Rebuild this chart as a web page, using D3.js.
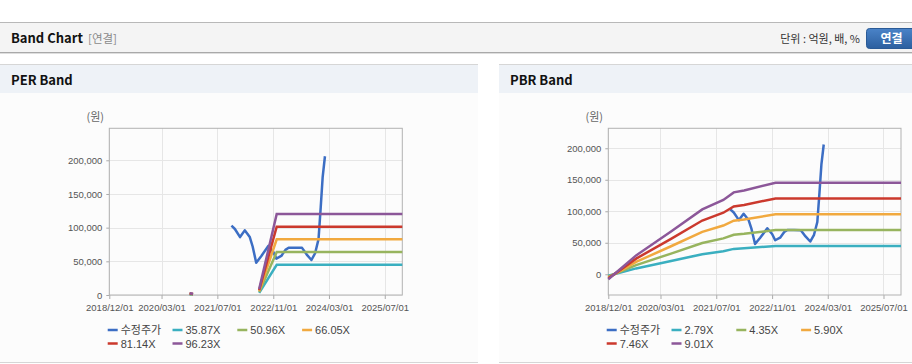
<!DOCTYPE html>
<html>
<head>
<meta charset="utf-8">
<script src="https://cdn.jsdelivr.net/npm/d3@7"></script>
<style>
  body { margin: 0; background: #fff; }
</style>
</head>
<body>
<div id="chart"></div>
<script>
// axis
const xDomain = ["2018/12/01", "2025/12/01"]
const xTickLabels = ["2018/12/01", "2020/03/01", "2021/07/01", "2022/11/01", "2024/03/01", "2025/07/01"]
const perYTicks = [0, 50000, 100000, 150000, 200000]
const pbrYTicks = [0, 50000, 100000, 150000, 200000]

// 수정주가
const priceDates = ["2021/11/01", "2021/12/01", "2022/01/15", "2022/02/25", "2022/04/10", "2022/05/05",
  "2022/06/05", "2022/07/20", "2022/09/20", "2022/11/01", "2022/11/28", "2023/01/10", "2023/02/15",
  "2023/03/15", "2023/05/10", "2023/07/10", "2023/08/20", "2023/09/30", "2023/11/01", "2023/12/01",
  "2023/12/20", "2024/01/06", "2024/01/26"]
const priceValues = [103000, 98000, 86000, 96000, 86000, 72000,
  48000, 58000, 73000, 64000, 54000, 58000, 67000,
  70200, 70300, 70000, 60000, 52000, 62000, 83000,
  130000, 175000, 206000]

// PER band
const perNames = ["35.87X", "50.96X", "66.05X", "81.14X", "96.23X"]
const perDates = ["2020/11/01", "2020/12/01", "2021/06/01", "2022/07/01", "2022/12/01", "2025/12/01"]
const per3587 = [900, 700, null, 3200, 44800, 44800]
const per5096 = [1300, 1000, null, 4600, 63700, 63700]
const per6605 = [1700, 1300, null, 5900, 82600, 82600]
const per8114 = [2200, 1600, null, 7300, 101400, 101400]
const per9623 = [2600, 2000, null, 8700, 120300, 120300]

// PBR band
const pbrNames = ["2.79X", "4.35X", "5.90X", "7.46X", "9.01X"]
const pbrDates = ["2018/12/01", "2019/03/01", "2019/08/01", "2020/06/01", "2021/03/01", "2021/09/01",
  "2021/12/01", "2022/03/01", "2022/12/01", "2025/12/01"]
const pbr279 = [-2400, 1900, 9300, 21100, 31900, 36500, 40300, 41200, 45000, 45000]
const pbr435 = [-3800, 2900, 14500, 32800, 49700, 57000, 62800, 64200, 70200, 70200]
const pbr590 = [-5200, 3900, 19600, 44500, 67400, 77300, 85100, 87100, 95200, 95200]
const pbr746 = [-6500, 5000, 24800, 56300, 85300, 97700, 107600, 110100, 120400, 120400]
const pbr901 = [-7900, 6000, 30000, 68000, 103000, 118000, 130000, 133000, 145400, 145400]

const colors = ["#3c6ec4", "#3aafc0", "#97b45e", "#f1a93f", "#cb392d", "#8c5799"]

const parse = d3.timeParse("%Y/%m/%d")
const FONT = "'Liberation Sans', Arial, 'Noto Sans CJK KR', sans-serif"
const KFONT = "'Noto Sans CJK KR', 'Noto Sans', sans-serif"

const svg = d3.select("#chart")
  .append("svg")
  .attr("width", 912)
  .attr("height", 364)
  .style("display", "block")

// top header bar
svg.append("rect").attr("x", 0).attr("y", 22).attr("width", 912).attr("height", 31).attr("fill", "#f4f4f4")
svg.append("line").attr("x1", 0).attr("x2", 912).attr("y1", 22.5).attr("y2", 22.5).attr("stroke", "#b8b8b8")
svg.append("line").attr("x1", 0).attr("x2", 912).attr("y1", 52.5).attr("y2", 52.5).attr("stroke", "#a9a9a9")
svg.append("line").attr("x1", 0).attr("x2", 912).attr("y1", 53.5).attr("y2", 53.5).attr("stroke", "#dedede")

svg.append("text")
  .attr("x", 11).attr("y", 43)
  .style("font-family", KFONT).style("font-size", "13px").style("font-weight", "bold")
  .attr("fill", "#111")
  .text("Band Chart")
svg.append("text")
  .attr("x", 88).attr("y", 43)
  .style("font-family", KFONT).style("font-size", "11.5px")
  .attr("fill", "#8a8a8a")
  .text("[연결]")
svg.append("text")
  .attr("x", 860).attr("y", 43)
  .attr("text-anchor", "end")
  .style("font-family", KFONT).style("font-size", "11px")
  .attr("fill", "#333")
  .text("단위 : 억원, 배, %")

const grad = svg.append("defs").append("linearGradient")
  .attr("id", "btn").attr("x1", 0).attr("x2", 0).attr("y1", 0).attr("y2", 1)
grad.append("stop").attr("offset", "0%").attr("stop-color", "#4a83c8")
grad.append("stop").attr("offset", "100%").attr("stop-color", "#2c5f9f")
svg.append("rect")
  .attr("x", 866.5).attr("y", 28.5).attr("width", 52).attr("height", 20).attr("rx", 3)
  .attr("fill", "url(#btn)").attr("stroke", "#2a5a96")
svg.append("text")
  .attr("x", 891.5).attr("y", 43)
  .attr("text-anchor", "middle")
  .style("font-family", KFONT).style("font-size", "12px").style("font-weight", "bold")
  .attr("fill", "#fff")
  .text("연결")

function drawBandChart(cfg) {
  const g = svg.append("g")

  // panel
  g.append("rect").attr("x", cfg.px).attr("y", 65).attr("width", cfg.pw).attr("height", 28).attr("fill", "#eef2f7")
  g.append("rect").attr("x", cfg.px).attr("y", 93).attr("width", cfg.pw).attr("height", 269).attr("fill", "#fcfcfc")
  g.append("line").attr("x1", cfg.px).attr("x2", cfg.px + cfg.pw).attr("y1", 64.5).attr("y2", 64.5).attr("stroke", "#d6d6d6")
  g.append("line").attr("x1", cfg.px).attr("x2", cfg.px + cfg.pw).attr("y1", 362.5).attr("y2", 362.5).attr("stroke", "#d6d6d6")
  g.append("text")
    .attr("x", cfg.px + 11).attr("y", 85)
    .style("font-family", KFONT).style("font-size", "13px").style("font-weight", "bold")
    .attr("fill", "#111")
    .text(cfg.title)

  const top = 128.3, bottom = 295

  const x = d3.scaleTime()
    .domain(xDomain.map(parse))
    .range([cfg.left, cfg.right])
  const y = d3.scaleLinear()
    .domain(cfg.yDomain)
    .range([bottom, top])

  const tickDates = xTickLabels.map(parse)

  // grid
  g.append("g").selectAll("line")
    .data(tickDates)
    .enter().append("line")
    .attr("x1", d => Math.round(x(d)) + 0.5).attr("x2", d => Math.round(x(d)) + 0.5)
    .attr("y1", top).attr("y2", bottom)
    .attr("stroke", "#e6e6e6")
  g.append("g").selectAll("line")
    .data(cfg.yTicks)
    .enter().append("line")
    .attr("x1", cfg.left).attr("x2", cfg.right)
    .attr("y1", d => Math.round(y(d)) + 0.5).attr("y2", d => Math.round(y(d)) + 0.5)
    .attr("stroke", "#e6e6e6")

  // axes
  const xAxis = g.append("g")
    .attr("transform", `translate(0, ${bottom})`)
    .call(d3.axisBottom(x).tickValues(tickDates).tickFormat(d3.timeFormat("%Y/%m/%d")).tickSize(4).tickPadding(5))
  const yAxis = g.append("g")
    .attr("transform", `translate(${cfg.left}, 0)`)
    .call(d3.axisLeft(y).tickValues(cfg.yTicks).tickFormat(d3.format(",")).tickSize(3).tickPadding(4))
  for (const ax of [xAxis, yAxis]) {
    ax.select(".domain").remove()
    ax.selectAll("line").attr("stroke", "#aaa")
    ax.selectAll("text").attr("fill", "#555").style("font-family", FONT).style("font-size", "9.5px")
  }

  // frame
  g.append("rect")
    .attr("x", cfg.left).attr("y", top)
    .attr("width", cfg.right - cfg.left).attr("height", bottom - top)
    .attr("fill", "none").attr("stroke", "#b2b2b2")

  g.append("text")
    .attr("x", cfg.left - 14).attr("y", 121)
    .attr("text-anchor", "middle")
    .style("font-family", KFONT).style("font-size", "11px")
    .attr("fill", "#666")
    .text("(원)")

  // lines
  const plot = g.append("g")
  const priceLine = d3.line()
    .x(d => x(d.date)).y(d => y(d.value))
  const bandLine = d3.line()
    .defined(d => d.value != null)
    .x(d => x(d.date)).y(d => y(d.value))

  const price = priceDates.map((d, i) => ({ date: parse(d), value: priceValues[i] }))
  plot.append("path")
    .datum(price)
    .attr("d", priceLine)
    .attr("fill", "none").attr("stroke", colors[0]).attr("stroke-width", 2.5)
    .attr("stroke-linejoin", "round")

  cfg.bands.forEach((vals, k) => {
    const pts = cfg.bandDates.map((d, i) => ({ date: parse(d), value: vals[i] }))
    plot.append("path")
      .datum(pts)
      .attr("d", bandLine)
      .attr("fill", "none").attr("stroke", colors[k + 1]).attr("stroke-width", 2.5)
  })

  // legend
  const names = ["수정주가"].concat(cfg.names)
  const legend = g.append("g")
  names.forEach((name, i) => {
    const lx = cfg.legendX + (i % 4) * 64.8
    const ly = 330 + Math.floor(i / 4) * 13.5
    legend.append("line")
      .attr("x1", lx).attr("x2", lx + 10).attr("y1", ly).attr("y2", ly)
      .attr("stroke", colors[i]).attr("stroke-width", 2.5)
    legend.append("text")
      .attr("x", lx + 13).attr("y", ly + 4)
      .style("font-family", FONT).style("font-size", "11px")
      .attr("fill", "#444")
      .text(name)
  })
}

drawBandChart({
  title: "PER Band",
  px: 0, pw: 478,
  left: 109.3, right: 402.3,
  yDomain: [0, 247500],
  yTicks: perYTicks,
  names: perNames,
  bandDates: perDates,
  bands: [per3587, per5096, per6605, per8114, per9623],
  legendX: 107.7
})

drawBandChart({
  title: "PBR Band",
  px: 499, pw: 413,
  left: 608.3, right: 901,
  yDomain: [-32900, 231700],
  yTicks: pbrYTicks,
  names: pbrNames,
  bandDates: pbrDates,
  bands: [pbr279, pbr435, pbr590, pbr746, pbr901],
  legendX: 606.7
})
</script>
</body>
</html>
